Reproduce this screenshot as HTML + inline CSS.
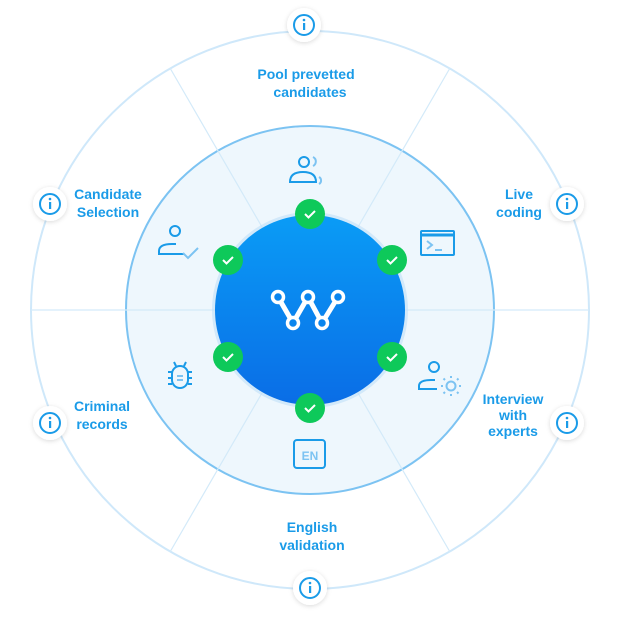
<!DOCTYPE html>
<html><head><meta charset="utf-8"><style>
body{margin:0;background:#fff;}
svg{display:block}
text{font-family:"Liberation Sans",sans-serif;font-weight:bold;font-size:14px;fill:#1a9be8;text-anchor:middle}
</style></head><body>
<svg width="620" height="620" viewBox="0 0 620 620">
<defs>
<linearGradient id="bg" x1="0" y1="0" x2="0" y2="1"><stop offset="0" stop-color="#0a9cf6"/><stop offset="1" stop-color="#0a6de6"/></linearGradient>
<filter id="sh" x="-50%" y="-50%" width="200%" height="200%"><feDropShadow dx="0" dy="1" stdDeviation="2.5" flood-color="#000" flood-opacity="0.15"/></filter>
</defs>
<circle cx="310" cy="310" r="279" fill="#fff" stroke="#cfe8fa" stroke-width="2"/>
<circle cx="310" cy="310" r="184" fill="#eef7fd" stroke="#7cc3f2" stroke-width="2"/>
<g stroke="#d3eaf9" stroke-width="1.2">
<line x1="31" y1="310" x2="589" y2="310"/>
<line x1="170" y1="68" x2="450" y2="552"/>
<line x1="450" y1="68" x2="170" y2="552"/>
</g>
<circle cx="310" cy="310" r="98" fill="#bfe0f8" opacity="0.6"/>
<circle cx="310" cy="310" r="95" fill="url(#bg)"/>
<g stroke="#fff" stroke-width="5" fill="none" stroke-linejoin="round">
<polyline points="278,297 293,323 308,297 322,323 338,297"/>
</g>
<g fill="#0a85ee" stroke="#fff" stroke-width="3.5">
<circle cx="278" cy="297" r="5.5"/><circle cx="308" cy="297" r="5.5"/><circle cx="338" cy="297" r="5.5"/>
<circle cx="293" cy="323" r="5.5"/><circle cx="322" cy="323" r="5.5"/>
</g>
<g>
<g transform="translate(310,214)"><circle r="15" fill="#0ec95a"/><path d="M-5 0 l3.5 3.5 l6.5 -6.5" stroke="#fff" stroke-width="2" fill="none"/></g>
<g transform="translate(228,260)"><circle r="15" fill="#0ec95a"/><path d="M-5 0 l3.5 3.5 l6.5 -6.5" stroke="#fff" stroke-width="2" fill="none"/></g>
<g transform="translate(392,260)"><circle r="15" fill="#0ec95a"/><path d="M-5 0 l3.5 3.5 l6.5 -6.5" stroke="#fff" stroke-width="2" fill="none"/></g>
<g transform="translate(228,357)"><circle r="15" fill="#0ec95a"/><path d="M-5 0 l3.5 3.5 l6.5 -6.5" stroke="#fff" stroke-width="2" fill="none"/></g>
<g transform="translate(392,357)"><circle r="15" fill="#0ec95a"/><path d="M-5 0 l3.5 3.5 l6.5 -6.5" stroke="#fff" stroke-width="2" fill="none"/></g>
<g transform="translate(310,408)"><circle r="15" fill="#0ec95a"/><path d="M-5 0 l3.5 3.5 l6.5 -6.5" stroke="#fff" stroke-width="2" fill="none"/></g>
</g>
<g fill="none" stroke="#1a9be8" stroke-width="2">
<!-- top person -->
<circle cx="304" cy="162" r="5"/><path d="M290 182 q0 -10 13 -10 q13 0 13 10 z"/>
<path d="M313 157 a5 5 0 0 1 0 9" stroke="#7cc3f2"/><path d="M319 177 a4 4 0 0 1 0 7" stroke="#7cc3f2"/>
<!-- terminal -->
<rect x="421" y="231" width="33" height="24" rx="1"/><line x1="421" y1="235" x2="454" y2="235" stroke-width="3"/>
<path d="M427 241 l5 4 l-5 4" stroke="#7cc3f2"/><line x1="435" y1="250" x2="442" y2="250" stroke="#7cc3f2"/>
<!-- person check -->
<circle cx="175" cy="231" r="5"/><path d="M184 254 h-25 v-3 q0 -7 13 -7 h4"/>
<path d="M183 253 l5 5 l10 -10" stroke="#7cc3f2"/>
<!-- person gear -->
<circle cx="434" cy="367" r="5"/><path d="M437 389 h-18 v-3 q0 -6 12 -6 h4"/>
<circle cx="451" cy="386" r="4.5" stroke="#7cc3f2"/><path d="M451 378 v-2 M451 394 v2 M443 386 h-2 M459 386 h2 M445 380 l-1.5 -1.5 M457 392 l1.5 1.5 M457 380 l1.5 -1.5 M445 392 l-1.5 1.5" stroke="#7cc3f2"/>
<!-- bug -->
<rect x="172" y="366" width="16" height="22" rx="8"/><path d="M176 366 l-2 -4 M184 366 l2 -4 M172 372 h-4 M172 378 h-4 M172 384 h-4 M188 372 h4 M188 378 h4 M188 384 h4"/>
<path d="M177 376 h6 M177 380 h6" stroke="#7cc3f2"/>
<!-- EN -->
<rect x="294" y="440" width="31" height="28" rx="3"/>
</g>
<text x="310" y="460" style="font-size:12px;fill:#7cc3f2">EN</text>
<text x="306" y="79">Pool prevetted</text><text x="310" y="97">candidates</text>
<text x="108" y="199">Candidate</text><text x="108" y="217">Selection</text>
<text x="519" y="199">Live</text><text x="519" y="217">coding</text>
<text x="102" y="411">Criminal</text><text x="102" y="429">records</text>
<text x="513" y="404">Interview</text><text x="513" y="420">with</text><text x="513" y="436">experts</text>
<text x="312" y="532">English</text><text x="312" y="550">validation</text>
<g>
<g transform="translate(304,25)"><circle r="17" fill="#fff" filter="url(#sh)"/><circle r="10" fill="none" stroke="#1a9be8" stroke-width="2"/><rect x="-1" y="-2" width="2.2" height="7" fill="#1a9be8"/><circle cy="-5" r="1.3" fill="#1a9be8"/></g>
<g transform="translate(50,204)"><circle r="17" fill="#fff" filter="url(#sh)"/><circle r="10" fill="none" stroke="#1a9be8" stroke-width="2"/><rect x="-1" y="-2" width="2.2" height="7" fill="#1a9be8"/><circle cy="-5" r="1.3" fill="#1a9be8"/></g>
<g transform="translate(567,204)"><circle r="17" fill="#fff" filter="url(#sh)"/><circle r="10" fill="none" stroke="#1a9be8" stroke-width="2"/><rect x="-1" y="-2" width="2.2" height="7" fill="#1a9be8"/><circle cy="-5" r="1.3" fill="#1a9be8"/></g>
<g transform="translate(50,423)"><circle r="17" fill="#fff" filter="url(#sh)"/><circle r="10" fill="none" stroke="#1a9be8" stroke-width="2"/><rect x="-1" y="-2" width="2.2" height="7" fill="#1a9be8"/><circle cy="-5" r="1.3" fill="#1a9be8"/></g>
<g transform="translate(567,423)"><circle r="17" fill="#fff" filter="url(#sh)"/><circle r="10" fill="none" stroke="#1a9be8" stroke-width="2"/><rect x="-1" y="-2" width="2.2" height="7" fill="#1a9be8"/><circle cy="-5" r="1.3" fill="#1a9be8"/></g>
<g transform="translate(310,588)"><circle r="17" fill="#fff" filter="url(#sh)"/><circle r="10" fill="none" stroke="#1a9be8" stroke-width="2"/><rect x="-1" y="-2" width="2.2" height="7" fill="#1a9be8"/><circle cy="-5" r="1.3" fill="#1a9be8"/></g>
</g>
</svg>
</body></html>
